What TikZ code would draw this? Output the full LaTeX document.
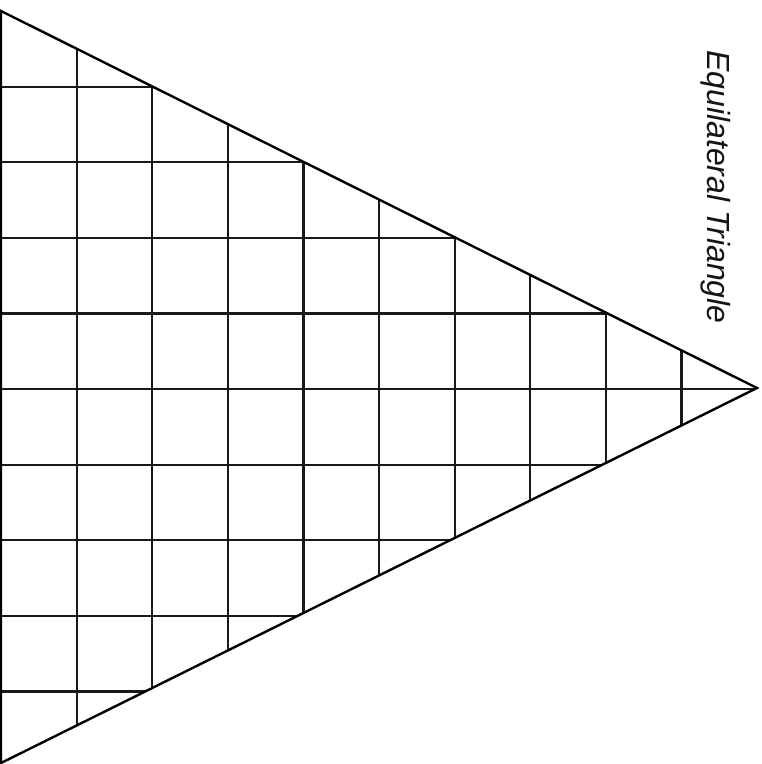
\documentclass[tikz,border=0pt]{standalone}
\usepackage{fontspec}
\setmainfont{Liberation Sans}
\begin{document}
\begin{tikzpicture}[x=1pt,y=-1pt,
  gridline/.style={line width=2.2pt,black!90},
  edge/.style={line width=2.4pt,black,line join=miter},
  label/.style={font=\fontsize{32}{38}\selectfont\itshape,rotate=-90,anchor=base west,inner sep=0pt,text=black!92}]
\useasboundingbox (0,0) rectangle (762,764);
\coordinate (A) at (1,11);
\coordinate (B) at (1,763);
\coordinate (C) at (757,388);
\begin{scope}
  \clip (A) -- (C) -- (B) -- cycle;
  \foreach \k in {1,...,9} {
    \draw[gridline] ({1+75.6*\k},0) -- ({1+75.6*\k},764);
    \draw[gridline] (0,{11+75.6*\k}) -- (762,{11+75.6*\k});
  }
\end{scope}
\draw[edge] (A) -- (C) -- (B) -- cycle;
\node[label] (title) at (707,50) {Equilateral Triangle};
\end{tikzpicture}
\end{document}
